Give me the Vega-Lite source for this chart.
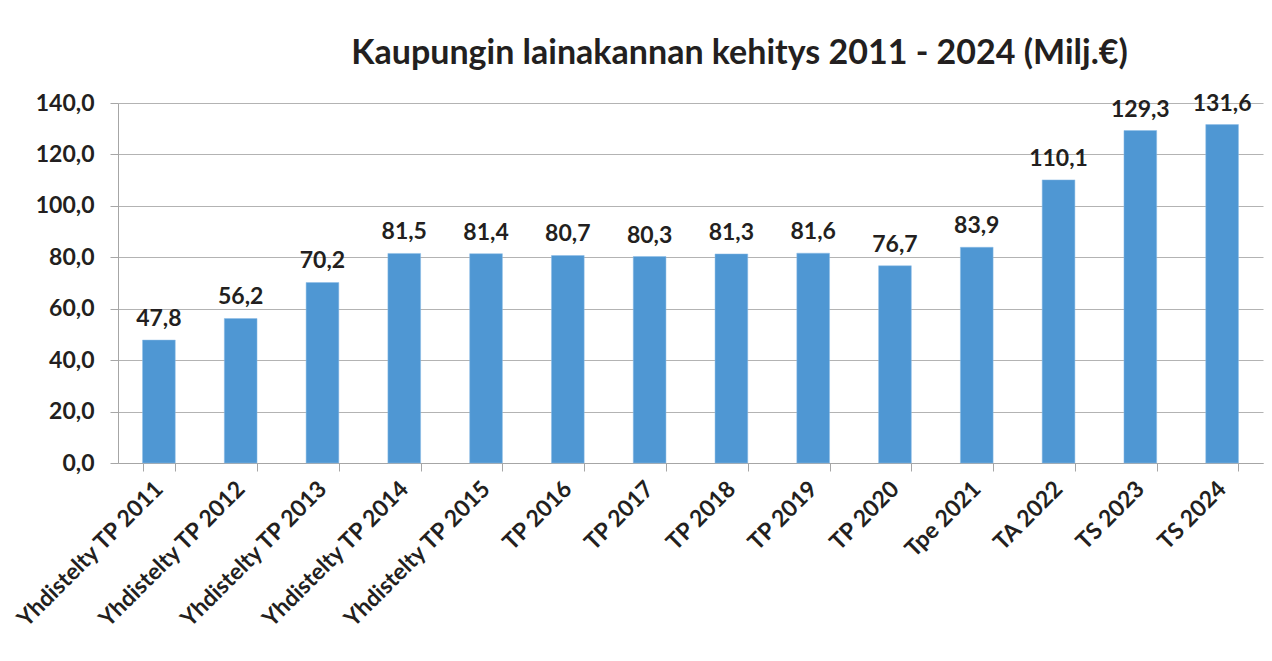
{
  "$schema": "https://vega.github.io/schema/vega-lite/v6.json",
  "width": 1145,
  "height": 360,
  "autosize": "none",
  "padding": {"left": 118, "top": 103, "right": 9, "bottom": 198},
  "background": "white",
  "config": {
    "locale": {"number": {"decimal": ",", "thousands": " ", "grouping": [3], "currency": ["", " €"]}},
    "view": {"stroke": null},
    "font": "Lato"
  },
  "title": {
    "text": "Kaupungin lainakannan kehitys 2011 - 2024 (Milj.€)",
    "font": "Lato",
    "fontSize": 34,
    "fontWeight": "bold",
    "color": "#231F20",
    "anchor": "middle",
    "dx": 49,
    "offset": 21
  },
  "data": {
    "values": [
      {"kausi": "Yhdistelty TP 2011", "arvo": 47.8},
      {"kausi": "Yhdistelty TP 2012", "arvo": 56.2},
      {"kausi": "Yhdistelty TP 2013", "arvo": 70.2},
      {"kausi": "Yhdistelty TP 2014", "arvo": 81.5},
      {"kausi": "Yhdistelty TP 2015", "arvo": 81.4},
      {"kausi": "TP 2016", "arvo": 80.7},
      {"kausi": "TP 2017", "arvo": 80.3},
      {"kausi": "TP 2018", "arvo": 81.3},
      {"kausi": "TP 2019", "arvo": 81.6},
      {"kausi": "TP 2020", "arvo": 76.7},
      {"kausi": "Tpe 2021", "arvo": 83.9},
      {"kausi": "TA 2022", "arvo": 110.1},
      {"kausi": "TS 2023", "arvo": 129.3},
      {"kausi": "TS 2024", "arvo": 131.6}
    ]
  },
  "encoding": {
    "x": {
      "field": "kausi",
      "type": "nominal",
      "sort": null,
      "title": null,
      "scale": {"paddingInner": 0.6, "paddingOuter": 0.3},
      "axis": {
        "labelAngle": -45,
        "labelAlign": "right",
        "labelBaseline": "middle",
        "labelFont": "Lato",
        "labelFontSize": 23,
        "labelFontWeight": "bold",
        "labelColor": "#231F20",
        "labelPadding": 14,
        "tickBand": "extent",
        "tickSize": 8,
        "tickColor": "#A6A6A6",
        "domainColor": "#A6A6A6",
        "labelLimit": 400
      }
    },
    "y": {
      "field": "arvo",
      "type": "quantitative",
      "title": null,
      "scale": {"domain": [0, 140], "nice": false},
      "axis": {
        "values": [0, 20, 40, 60, 80, 100, 120, 140],
        "format": ".1f",
        "labelFont": "Lato",
        "labelFontSize": 23,
        "labelFontWeight": "bold",
        "labelColor": "#231F20",
        "labelPadding": 16,
        "tickSize": 8,
        "tickColor": "#A6A6A6",
        "domainColor": "#A6A6A6",
        "gridColor": "#B3B3B3",
        "grid": true
      }
    }
  },
  "layer": [
    {
      "mark": {"type": "bar", "color": "#4F97D3", "stroke": "#8DBDE6", "strokeWidth": 0.5}
    },
    {
      "mark": {
        "type": "text",
        "baseline": "bottom",
        "dy": -9,
        "font": "Lato",
        "fontSize": 23,
        "fontWeight": "bold",
        "color": "#231F20"
      },
      "encoding": {
        "text": {"field": "arvo", "type": "quantitative", "format": ".1f"}
      }
    }
  ]
}
